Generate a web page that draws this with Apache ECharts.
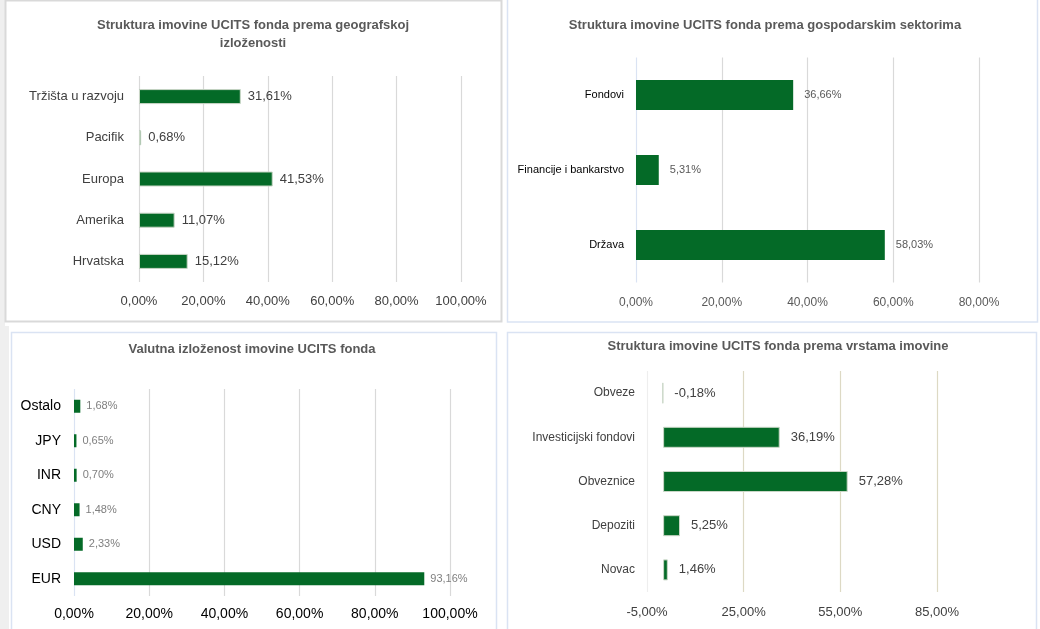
<!DOCTYPE html>
<html lang="hr">
<head>
<meta charset="UTF-8">
<title>Struktura imovine UCITS fonda</title>
<style>
  * { margin: 0; padding: 0; }
  body { background: #fff; }
  #chart { width: 1040px; height: 629px; }
</style>
</head>
<body>
<div id="chart"></div>
<script src="https://cdn.jsdelivr.net/npm/echarts@6/dist/echarts.min.js"></script>
<script>
// podaci
const geoCategories = ['Tržišta u razvoju', 'Pacifik', 'Europa', 'Amerika', 'Hrvatska'];
const geoValues = [31.61, 0.68, 41.53, 11.07, 15.12];

const sectorCategories = ['Fondovi', 'Financije i bankarstvo', 'Država'];
const sectorValues = [36.66, 5.31, 58.03];

const currencyCategories = ['Ostalo', 'JPY', 'INR', 'CNY', 'USD', 'EUR'];
const currencyValues = [1.68, 0.65, 0.70, 1.48, 2.33, 93.16];

const assetCategories = ['Obveze', 'Investicijski fondovi', 'Obveznice', 'Depoziti', 'Novac'];
const assetValues = [-0.18, 36.19, 57.28, 5.25, 1.46];

const FONT = '"Liberation Sans", Arial, sans-serif';
const GREEN = '#046a27';

// 31.61 -> "31,61%"
function pct(v) {
    return v.toFixed(2).replace('.', ',') + '%';
}

const chart = echarts.init(document.getElementById('chart'));

function titleOf(text, x, y) {
    return {
        text: text,
        left: x,
        top: y,
        textAlign: 'center',
        padding: 0,
        textStyle: {
            fontFamily: FONT,
            fontSize: 13,
            fontWeight: 'bold',
            color: '#595959',
            lineHeight: 18
        }
    };
}

function valueAxis(idx, min, max, interval, cfg) {
    return {
        gridIndex: idx,
        type: 'value',
        min: min,
        max: max,
        interval: interval,
        axisLine: { show: false },
        axisTick: { show: false },
        axisLabel: {
            formatter: pct,
            fontFamily: FONT,
            fontSize: cfg.tickSize,
            color: cfg.tickColor,
            margin: cfg.tickMargin
        },
        splitLine: {
            show: true,
            lineStyle: { color: cfg.splitColors, width: 1.2 }
        }
    };
}

function catAxis(idx, data, cfg) {
    return {
        gridIndex: idx,
        type: 'category',
        inverse: true,
        data: data,
        axisLine: { show: false },
        axisTick: { show: false },
        axisLabel: {
            fontFamily: FONT,
            fontSize: cfg.catSize,
            color: cfg.catColor,
            margin: cfg.catMargin
        }
    };
}

function barSeries(idx, data, cfg) {
    return {
        type: 'bar',
        xAxisIndex: idx,
        yAxisIndex: idx,
        data: data,
        barWidth: cfg.barWidth,
        silent: true,
        itemStyle: {
            color: GREEN,
            borderColor: cfg.border,
            borderWidth: cfg.border ? 1 : 0
        },
        label: {
            show: true,
            position: 'right',
            distance: cfg.labelDist,
            formatter: p => pct(p.value),
            fontFamily: FONT,
            fontSize: cfg.labelSize,
            color: cfg.labelColor
        }
    };
}

const p1 = {
    tickSize: 13, tickColor: '#404040', tickMargin: 13,
    splitColors: ['#d9d9d9'],
    catSize: 13, catColor: '#404040', catMargin: 15,
    barWidth: 15, border: '#c9d6c6', labelDist: 7, labelSize: 13, labelColor: '#404040'
};
const p2 = {
    tickSize: 12, tickColor: '#595959', tickMargin: 14,
    splitColors: ['#dae3f3', '#d9d9d9', '#d9d9d9', '#d9d9d9', '#d9d9d9'],
    catSize: 11, catColor: '#000000', catMargin: 12,
    barWidth: 30, border: null, labelDist: 11, labelSize: 11, labelColor: '#595959'
};
const p3 = {
    tickSize: 14, tickColor: '#000000', tickMargin: 11,
    splitColors: ['#dae3f3', '#d9d9d9', '#d9d9d9', '#d9d9d9', '#d9d9d9', '#d9d9d9'],
    catSize: 14, catColor: '#000000', catMargin: 13,
    barWidth: 13, border: null, labelDist: 6, labelSize: 11, labelColor: '#7f7f7f'
};
const p4 = {
    tickSize: 13, tickColor: '#404040', tickMargin: 14,
    splitColors: ['#eeeeee', '#ddd9c4', '#ddd9c4', '#ddd9c4'],
    catSize: 12, catColor: '#404040', catMargin: 12,
    barWidth: 21, border: '#c9d6c6', labelDist: 11, labelSize: 13, labelColor: '#404040'
};

const option = {
    backgroundColor: '#ffffff',
    animation: false,
    title: [
        titleOf('Struktura imovine UCITS fonda prema geografskoj\nizloženosti', 253, 16),
        titleOf('Struktura imovine UCITS fonda prema gospodarskim sektorima', 765, 16),
        titleOf('Valutna izloženost imovine UCITS fonda', 252, 340),
        titleOf('Struktura imovine UCITS fonda prema vrstama imovine', 778, 337)
    ],
    grid: [
        { left: 139, top: 76, width: 322, height: 206 },
        { left: 636, top: 57.5, width: 343, height: 225 },
        { left: 74, top: 389, width: 376, height: 207 },
        { left: 647, top: 371, width: 290, height: 221 }
    ],
    xAxis: [
        valueAxis(0, 0, 100, 20, p1),
        valueAxis(1, 0, 80, 20, p2),
        valueAxis(2, 0, 100, 20, p3),
        valueAxis(3, -5, 85, 30, p4)
    ],
    yAxis: [
        catAxis(0, geoCategories, p1),
        catAxis(1, sectorCategories, p2),
        catAxis(2, currencyCategories, p3),
        catAxis(3, assetCategories, p4)
    ],
    series: [
        barSeries(0, geoValues, p1),
        barSeries(1, sectorValues, p2),
        barSeries(2, currencyValues, p3),
        barSeries(3, assetValues, p4)
    ],
    // okviri panela
    graphic: [
        { type: 'rect', shape: { x: 0, y: 0, width: 5, height: 326 }, style: { fill: '#efefef' }, silent: true },
        { type: 'rect', shape: { x: 0, y: 326, width: 9, height: 303 }, style: { fill: '#efefef' }, silent: true },
        { type: 'rect', shape: { x: 5.5, y: 0.5, width: 496, height: 321 }, style: { fill: null, stroke: '#d9d9d9', lineWidth: 2 }, silent: true },
        { type: 'rect', shape: { x: 507.5, y: -2, width: 530, height: 324 }, style: { fill: null, stroke: '#dae3f3', lineWidth: 1.5 }, silent: true },
        { type: 'rect', shape: { x: 11.5, y: 332.5, width: 485, height: 310 }, style: { fill: null, stroke: '#dae3f3', lineWidth: 1.5 }, silent: true },
        { type: 'rect', shape: { x: 507.5, y: 332.5, width: 529, height: 310 }, style: { fill: null, stroke: '#dae3f3', lineWidth: 1.5 }, silent: true }
    ]
};

chart.setOption(option);
</script>
</body>
</html>
